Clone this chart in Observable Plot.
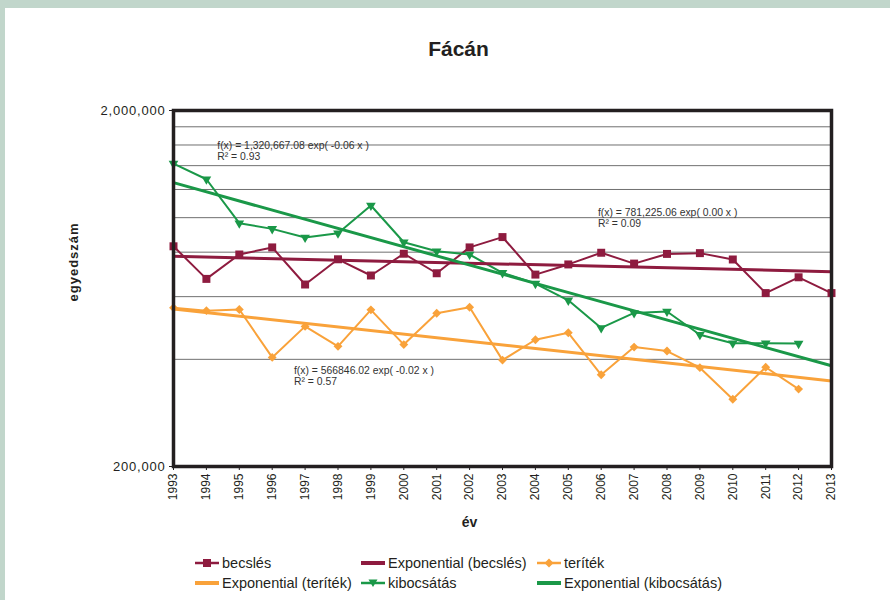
<!DOCTYPE html>
<html>
<head>
<meta charset="utf-8">
<script src="https://cdn.jsdelivr.net/npm/d3@7"></script>
<script src="https://cdn.jsdelivr.net/npm/@observablehq/plot@0.6"></script>
<style>
body{margin:0;background:#fff;font-family:"Liberation Sans",Arial,sans-serif;}
#page{position:relative;width:890px;height:600px;overflow:hidden;background:#fff;}
#topbar{position:absolute;left:0;top:0;width:890px;height:8px;background:#c1d6cb;}
#leftbar{position:absolute;left:0;top:0;width:5px;height:600px;background:#c1d6cb;}
#title{position:absolute;left:358px;width:201px;top:38px;text-align:center;font-weight:bold;font-size:21px;line-height:21px;color:#231f20;}
#chart{position:absolute;left:0;top:90px;}
.item{position:absolute;display:flex;align-items:center;height:20px;white-space:nowrap;font-size:14.5px;color:#231f20;}
.item svg{margin-right:3px;display:block}
</style>
</head>
<body>
<div id="page">
  <div id="topbar"></div>
  <div id="leftbar"></div>
  <div id="title">Fácán</div>
  <div id="chart"></div>
  <div id="legend"></div>
</div>
<script>
const years = [1993,1994,1995,1996,1997,1998,1999,2000,2001,2002,2003,2004,2005,2006,2007,2008,2009,2010,2011,2012,2013];
const becsles = [831000,673000,788000,825000,649000,764000,688000,792000,698000,825000,882000,692000,739000,797000,743000,791000,795000,763000,614000,680000,614000];
const teritek = [558000,548000,552000,405000,495000,435000,551000,440000,539000,560000,398000,454000,475000,362000,433000,422000,379000,309000,380000,330000,null];
const kibocsatas = [1419000,1282000,965000,930000,880000,904000,1082000,853000,805000,788000,700000,653000,586000,490000,540000,545000,469000,444000,444000,443000,null];
const yTickLabels = [200000, 2000000];
const gridValues = [400000,600000,800000,1000000,1200000,1400000,1600000,1800000];
const seriesNames = ["becslés","teríték","kibocsátás"];
const colors = {"becslés":"#8e1b3f","teríték":"#f9a23a","kibocsátás":"#1a9848"};
const eqTexts = ["f(x) = 1,320,667.08 exp( -0.06 x )\nR² = 0.93","f(x) = 781,225.06 exp( 0.00 x )\nR² = 0.09","f(x) = 566846.02 exp( -0.02 x )\nR² = 0.57"];
const eqYear = [1994.33, 2005.9, 1996.66];
const eqValue = [1640000, 1060000, 382000];

const seriesValues = {"becslés":becsles,"teríték":teritek,"kibocsátás":kibocsatas};
const rows = [];
for (const s of seriesNames) years.forEach((yr,i)=>{ const v = seriesValues[s][i]; if (v!=null) rows.push({series:s, year:yr, value:v}); });

// Exponential (Excel-style) trend: ln(v) = ln(a) + b*x, x = 1..n
function expTrend(vals){
  const pts = vals.map((v,i)=>[i+1,v]).filter(p=>p[1]!=null);
  const mx = d3.mean(pts,p=>p[0]), my = d3.mean(pts,p=>Math.log(p[1]));
  const b = d3.sum(pts,p=>(p[0]-mx)*(Math.log(p[1])-my))/d3.sum(pts,p=>(p[0]-mx)**2);
  const a = Math.exp(my-b*mx);
  return [years[0], years[years.length-1]].map(yr=>({year:yr, value:a*Math.exp(b*(yr-years[0]+1))}));
}
const trends = [];
for (const s of seriesNames) for (const p of expTrend(seriesValues[s])) trends.push({series:s, ...p});

const chart = Plot.plot({
  width: 890, height: 450,
  marginLeft: 173, marginRight: 59, marginTop: 20, marginBottom: 74,
  style: {fontFamily: '"Liberation Sans", Arial, sans-serif', fontSize: "12px", color: "#231f20", background: "transparent"},
  x: {domain: [1993, 2013]},
  y: {type: "log", domain: [200000, 2000000]},
  marks: [
    Plot.ruleY(gridValues, {stroke: "#707070", strokeWidth: 1}),
    Plot.axisY(yTickLabels, {tickFormat: d3.format(","), tickSize: 4, tickPadding: 4, fontSize: 13, label: null}),
    Plot.axisX(years, {tickFormat: d=>String(d), tickRotate: -90, tickSize: 4, tickPadding: 3, fontSize: 12, label: null}),
    Plot.line(rows, {x: "year", y: "value", z: "series", stroke: d=>colors[d.series], strokeWidth: 2}),
    Plot.line(trends, {x: "year", y: "value", z: "series", stroke: d=>colors[d.series], strokeWidth: 3}),
    Plot.dot(rows.filter(d=>d.series==="becslés"), {x: "year", y: "value", symbol: "square", r: 4.5, fill: colors["becslés"]}),
    Plot.dot(rows.filter(d=>d.series==="teríték"), {x: "year", y: "value", symbol: "diamond2", r: 4, fill: colors["teríték"]}),
    Plot.dot(rows.filter(d=>d.series==="kibocsátás"), {x: "year", y: "value", symbol: "triangle", rotate: 180, r: 3.6, fill: colors["kibocsátás"]}),
    Plot.frame({stroke: "#231f20", strokeWidth: 3.5}),
    Plot.text(eqTexts, {x: (d,i)=>eqYear[i], y: (d,i)=>eqValue[i], text: d=>d, textAnchor: "start", lineAnchor: "top", fontSize: 10.4, lineHeight: 1.05, fill: "#333"}),
    Plot.text(["egyedszám"], {frameAnchor: "left", dx: -100, dy: 13, rotate: -90, fontWeight: "bold", fontSize: 13, fill: "#231f20"}),
    Plot.text(["év"], {frameAnchor: "bottom", dx: -33, dy: 60, fontWeight: "bold", fontSize: 14, fill: "#231f20"})
  ]
});
d3.select(chart).selectAll("text").filter(function(){ return this.textContent === "egyedszám"; }).attr("letter-spacing", "1px");
d3.select(chart).selectAll("text").filter(function(){ return this.textContent === "2,000,000" || this.textContent === "200,000"; }).attr("letter-spacing", "0.8px");
document.getElementById("chart").appendChild(chart);

// Legend
const legendItems = [
  {label:"becslés", series:"becslés", kind:"marker", left:195, top:553},
  {label:"Exponential (becslés)", series:"becslés", kind:"line", left:361, top:553},
  {label:"teríték", series:"teríték", kind:"marker", left:537, top:553},
  {label:"Exponential (teríték)", series:"teríték", kind:"line", left:195, top:573},
  {label:"kibocsátás", series:"kibocsátás", kind:"marker", left:361, top:573},
  {label:"Exponential (kibocsátás)", series:"kibocsátás", kind:"line", left:537, top:573}
];
const symbolPath = {"becslés":"M8,2h8v8h-8z","teríték":"M12,1.5L16.5,6L12,10.5L7.5,6z","kibocsátás":"M7.5,2.5h9L12,10z"};
const legend = document.getElementById("legend");
for (const it of legendItems) {
  const c = colors[it.series];
  const div = document.createElement("div");
  div.className = "item";
  div.style.left = it.left + "px";
  div.style.top = it.top + "px";
  let svg = `<svg width="24" height="12" viewBox="0 0 24 12">`;
  if (it.kind === "line") svg += `<line x1="0" y1="6" x2="24" y2="6" stroke="${c}" stroke-width="4"/>`;
  else svg += `<line x1="0" y1="6" x2="24" y2="6" stroke="${c}" stroke-width="2.5"/><path d="${symbolPath[it.series]}" fill="${c}"/>`;
  svg += `</svg>`;
  div.innerHTML = svg + `<span>${it.label}</span>`;
  legend.appendChild(div);
}
</script>
</body>
</html>
